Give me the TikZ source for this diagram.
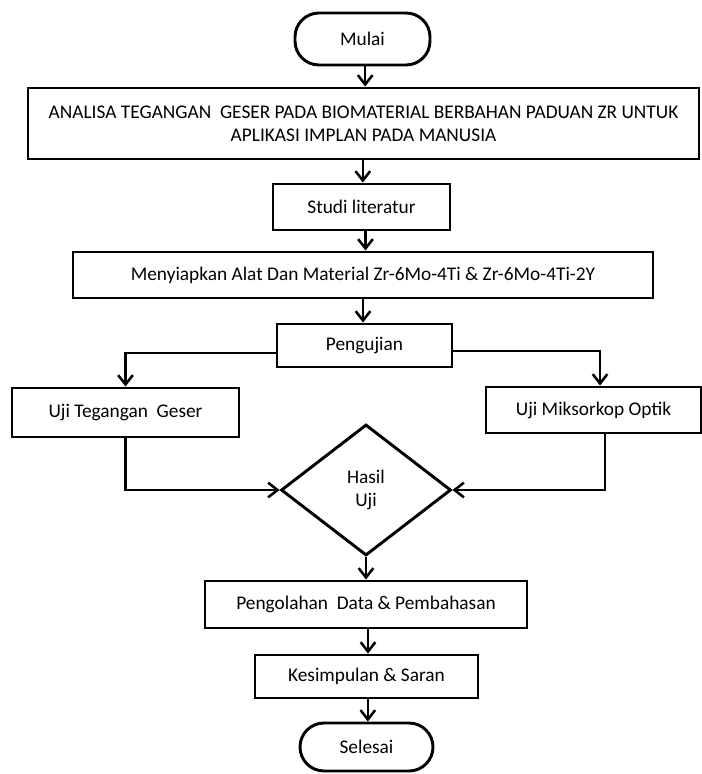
\documentclass[tikz,border=0pt]{standalone}
\usepackage{fontspec}
\setmainfont{Carlito}
\usetikzlibrary{shapes.geometric,arrows.meta}
\begin{document}
\begin{tikzpicture}[x=0.75pt,y=-0.75pt,
  font=\fontsize{14.5}{17.5}\selectfont,
  box/.style={draw,line width=2.2pt,inner sep=0pt,align=center},
  termbox/.style={box,rounded corners=18pt},
  decbox/.style={draw,line width=2.2pt,shape=diamond,inner sep=0pt,align=center},
  sz/.style 2 args={minimum width=#1*0.75pt,minimum height=#2*0.75pt},
  arr/.style={line width=1.9pt,-{Straight Barb[length=7pt,width=11pt]}}]
\useasboundingbox (0,0) rectangle (702,774);
\fill[white] (0,0) rectangle (702,774);
\node[termbox,sz={135}{52}] (mulai) at (362.5,39) {Mulai};
\node[box,sz={671}{71}] (analisa) at (363.5,123.5) {ANALISA TEGANGAN \ GESER PADA BIOMATERIAL BERBAHAN PADUAN ZR UNTUK\\APLIKASI IMPLAN PADA MANUSIA};
\node[box,sz={177}{46}] (studi) at (361.5,207) {Studi literatur};
\node[box,sz={580}{46}] (siap) at (363,275) {Menyiapkan Alat Dan Material Zr-6Mo-4Ti \& Zr-6Mo-4Ti-2Y};
\node[box,sz={175}{43}] (uji) at (364.5,345.5) {Pengujian};
\node[box,sz={227}{49}] (teg) at (125.5,412.5) {Uji Tegangan \ Geser};
\node[box,sz={215}{46}] (mik) at (593.5,410) {Uji Miksorkop Optik};
\node[decbox,sz={170}{131}] (hasil) at (366,490) {Hasil\\Uji};
\node[box,sz={322}{47}] (olah) at (366,604.5) {Pengolahan \ Data \& Pembahasan};
\node[box,sz={223}{43}] (simpul) at (366.5,676.5) {Kesimpulan \& Saran};
\node[termbox,sz={133}{48}] (selesai) at (366.5,747) {Selesai};
\draw[arr] ([xshift=2pt]mulai.south) -- ([xshift=2pt]mulai.south |- analisa.north);
\draw[arr] ([xshift=1pt]studi.north |- analisa.south) -- ([xshift=1pt]studi.north);
\draw[arr] ([xshift=3pt]studi.south) -- ([xshift=3pt]studi.south |- siap.north);
\draw[arr] (siap.south) -- (siap.south |- uji.north);
\draw[arr] (uji.west |- 0,353) -| (teg.north);
\draw[arr] (uji.east |- 0,351) -| ([xshift=4.9pt]mik.north);
\draw[arr] (teg.south) |- (hasil.west);
\draw[arr] ([xshift=8.6pt]mik.south) |- (hasil.east);
\draw[arr] (hasil.south) -- (olah.north);
\draw[arr] ([xshift=1.5pt]olah.south) -- ([xshift=1.5pt]olah.south |- simpul.north);
\draw[arr] ([xshift=1pt]simpul.south) -- ([xshift=1pt]simpul.south |- selesai.north);
\end{tikzpicture}
\end{document}
